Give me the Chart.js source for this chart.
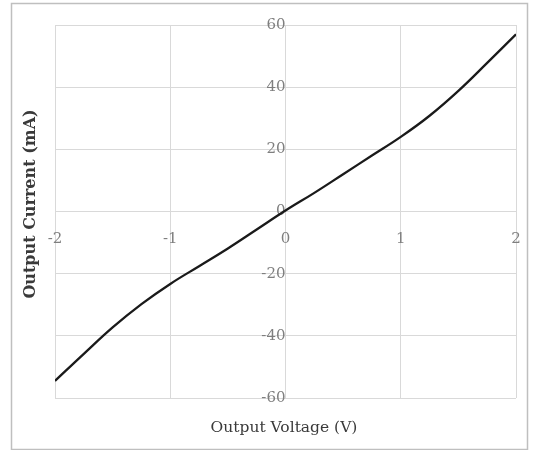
<!DOCTYPE html>
<html>
<head>
<meta charset="utf-8">
<script src="https://cdn.jsdelivr.net/npm/chart.js@4/dist/chart.umd.min.js"></script>
<style>
  body { margin: 0; background: #fff; }
  canvas { display: block; }
</style>
</head>
<body>
<canvas id="ivChart" width="534" height="450"></canvas>
<script>
// values, every 0.25 V
const voltage = [-2, -1.75, -1.5, -1.25, -1, -0.75, -0.5, -0.25, 0, 0.25, 0.5, 0.75, 1, 1.25, 1.5, 1.75, 2];
const current = [-54.5, -45.8, -37.3, -29.8, -23.3, -17.6, -11.9, -5.8, 0.3, 6, 12, 18, 24, 30.8, 38.8, 47.8, 57];
const xTicks = [-2, -1, 0, 1, 2];
const yTicks = [-60, -40, -20, 0, 20, 40, 60];
const xTitle = "Output Voltage (V)";
const yTitle = "Output Current (mA)";

const points = voltage.map((v, i) => ({ x: v, y: current[i] }));
const tickFont = { family: "DejaVu Serif", size: 15 };
const gridColor = "#d9d9d9";

// outer frame and the two titles (axes sit at the origin, so titles are drawn by hand)
const framePlugin = {
  id: "frame",
  beforeDraw(chart) {
    const ctx = chart.ctx;
    ctx.save();
    ctx.fillStyle = "#fff";
    ctx.fillRect(0, 0, chart.width, chart.height);
    ctx.strokeStyle = "#bfbfbf";
    ctx.lineWidth = 1.5;
    ctx.strokeRect(11.5, 3.5, 516, 446);
    ctx.restore();
  },
  afterDraw(chart) {
    const ctx = chart.ctx;
    ctx.save();
    ctx.fillStyle = "#3a3a3a";
    ctx.textAlign = "center";
    ctx.textBaseline = "middle";
    ctx.font = "15.5px 'DejaVu Serif'";
    ctx.fillText(xTitle, 284, 428);
    ctx.translate(31, 204);
    ctx.rotate(-Math.PI / 2);
    ctx.font = "bold 16px 'DejaVu Serif'";
    ctx.fillText(yTitle, 0, 0);
    ctx.restore();
  }
};

new Chart(document.getElementById("ivChart"), {
  type: "scatter",
  data: {
    datasets: [{
      data: points,
      showLine: true,
      borderColor: "#1a1a1a",
      borderWidth: 2.3,
      pointRadius: 0,
      tension: 0.4
    }]
  },
  options: {
    responsive: false,
    animation: false,
    devicePixelRatio: 1,
    layout: { padding: { left: 55, top: 25, right: 18, bottom: 52 } },
    plugins: { legend: { display: false }, tooltip: { enabled: false } },
    scales: {
      x: {
        type: "linear",
        position: { y: 0 },
        min: -2, max: 2,
        afterBuildTicks: (axis) => { axis.ticks = xTicks.map(v => ({ value: v })); },
        grid: { color: gridColor, tickLength: 17, tickColor: "rgba(0,0,0,0)" },
        border: { display: false },
        ticks: { color: "#7f7f7f", font: tickFont, padding: 2, maxRotation: 0 }
      },
      y: {
        type: "linear",
        position: { x: 0 },
        min: -60, max: 60,
        afterBuildTicks: (axis) => { axis.ticks = yTicks.map(v => ({ value: v })); },
        grid: { color: gridColor, drawTicks: false },
        border: { display: false },
        ticks: { color: "#7f7f7f", font: tickFont, padding: 7 }
      }
    }
  },
  plugins: [framePlugin]
});
</script>
</body>
</html>
